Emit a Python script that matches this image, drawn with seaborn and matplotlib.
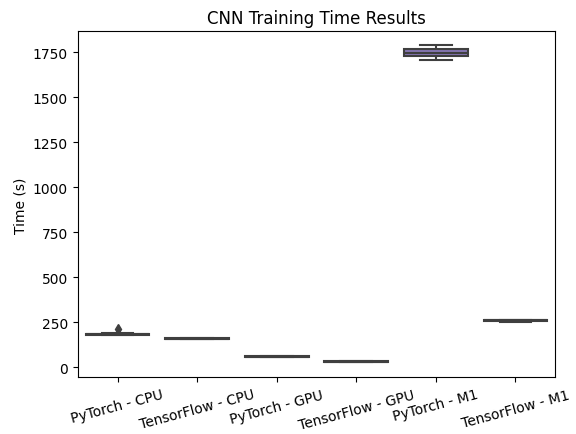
import matplotlib
matplotlib.use("Agg")
import matplotlib.pyplot as plt
import seaborn as sns
import pandas as pd

categories = ["PyTorch - CPU", "TensorFlow - CPU", "PyTorch - GPU",
              "TensorFlow - GPU", "PyTorch - M1", "TensorFlow - M1"]

pytorch_cpu = [176, 180, 181, 182, 183, 184, 185, 186, 188, 210]
tensorflow_cpu = [157, 158, 158, 159, 159, 159, 160, 160, 161, 161]
pytorch_gpu = [56, 57, 58, 58, 59, 59, 60, 60, 61, 62]
tensorflow_gpu = [29, 30, 30, 31, 31, 31, 31, 32, 32, 33]
pytorch_m1 = [1706, 1715, 1724, 1730, 1745, 1750, 1760, 1772, 1780, 1789]
tensorflow_m1 = [252, 255, 257, 258, 259, 260, 261, 262, 263, 264]

series = [pytorch_cpu, tensorflow_cpu, pytorch_gpu, tensorflow_gpu, pytorch_m1, tensorflow_m1]

rows = []
for cat, vals in zip(categories, series):
    for v in vals:
        rows.append({"framework": cat, "time": v})
df = pd.DataFrame(rows)

fig = plt.figure(figsize=(5.76, 4.35), dpi=100)
ax = fig.add_subplot(111)
plt.subplots_adjust(left=0.135, right=0.964, top=0.926, bottom=0.13)

sns.boxplot(data=df, x="framework", y="time", hue="framework",
            palette="deep", saturation=0.9, legend=False, order=categories, ax=ax,
            linewidth=1.5, linecolor="#3f3f3f",
            flierprops={"marker": "d", "markerfacecolor": "#3f3f3f",
                        "markeredgecolor": "#3f3f3f", "markersize": 5})

ax.set_title("CNN Training Time Results")
ax.set_ylabel("Time (s)")
ax.set_xlabel("")
ax.set_ylim(-57, 1866)
ax.set_yticks([0, 250, 500, 750, 1000, 1250, 1500, 1750])
plt.setp(ax.get_xticklabels(), rotation=15)

fig.savefig("out.png", dpi=100)
